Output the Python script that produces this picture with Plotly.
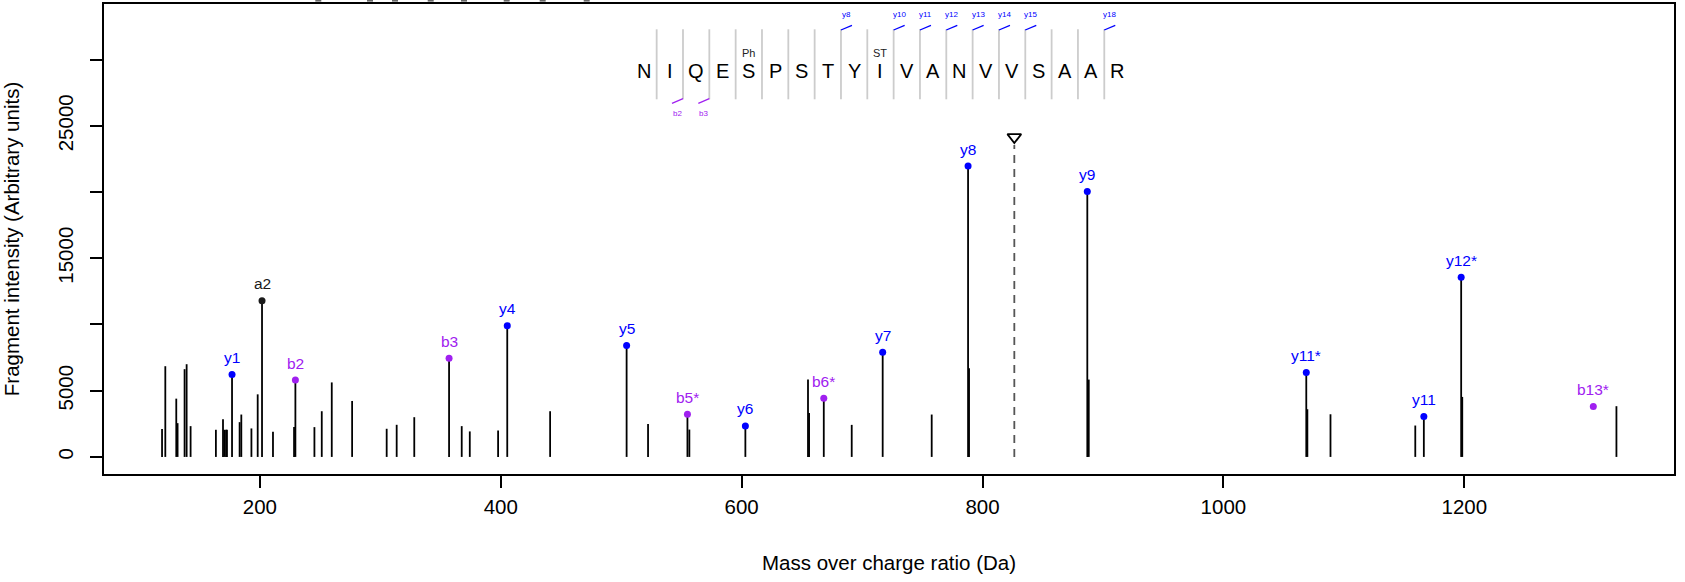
import plotly.graph_objects as go

# ---------------- data ----------------
# unannotated fragment peaks (m/z, intensity)
peak_mz = [118.8, 121.5, 130.6, 131.7, 137.5, 139.2, 142.5, 163.5, 169.4, 170.5,
           171.9, 172.7, 183.2, 184.6, 193.0, 198.2, 210.9, 228.4, 245.3, 251.4,
           259.7, 276.6, 305.3, 313.6, 328.2, 367.6, 374.3, 397.8, 441.0, 522.3,
           556.6, 655.1, 656.0, 691.4, 757.8, 788.8, 888.2, 1069.7, 1088.9, 1159.3,
           1198.3, 1326.3]
peak_int = [2100, 6850, 4400, 2550, 6625, 7000, 2325, 2050, 2850, 2050,
            2050, 2050, 2625, 3200, 2150, 4725, 1900, 2250, 2250, 3450,
            5625, 4225, 2125, 2425, 3000, 2325, 1925, 2000, 3450, 2480,
            2065, 5840, 3320, 2420, 3200, 6700, 5840, 3600, 3220, 2370,
            4530, 3830]

# annotated fragment ions
ion_labels = ["y1", "a2", "b2", "b3", "y4", "y5", "b5*", "y6", "b6*", "y7",
              "y8", "y9", "y11*", "y11", "y12*", "b13*"]
ion_mz = [176.9, 201.8, 229.5, 357.1, 405.4, 504.5, 555.0, 603.1, 668.2, 717.1,
          788.0, 887.0, 1068.8, 1166.4, 1197.4, 1307.1]
ion_int = [6225, 11800, 5800, 7450, 9900, 8410, 3220, 2340, 4430, 7910,
           21960, 20040, 6370, 3050, 13570, 3800]
ion_type = ["y", "a", "b", "b", "y", "y", "b", "y", "b", "y",
            "y", "y", "y", "y", "y", "b"]
ion_has_stem = [True] * 15 + [False]

precursor_mz = 826.4
precursor_line_top = 23545
precursor_marker = 24150

sequence = "NIQESPSTYIVANVVSAAR"
modifications = {4: "Ph", 9: "ST"}
seq_y_marks = [8, 10, 11, 12, 13, 14, 15, 18]
seq_b_marks = [2, 3]

x_ticks = [200, 400, 600, 800, 1000, 1200]
y_ticks = [0, 5000, 10000, 15000, 20000, 25000, 30000]
y_ticktext = ["0", "5000", "", "15000", "", "25000", ""]

# ---------------- style ----------------
FONT = "Liberation Sans, Arial, Helvetica, sans-serif"
COL = {"y": "#0000FF", "b": "#A020F0", "a": "#1a1a1a"}
W, H = 1685, 582
ML, MR, MT, MB = 104, 11, 4, 108
PW, PH = W - ML - MR, H - MT - MB


def px(x):
    return (x - ML) / PW


def py(y):
    return (H - MB - y) / PH


def paper_text(x, y, text, size, color):
    return dict(x=px(x), y=py(y), xref="paper", yref="paper", text=text,
                showarrow=False, xanchor="center", yanchor="middle",
                font=dict(family=FONT, size=size, color=color))


fig = go.Figure()

# stems
sx, sy = [], []
for m, v in zip(peak_mz, peak_int):
    sx += [m, m, None]
    sy += [0, v, None]
for m, v, s in zip(ion_mz, ion_int, ion_has_stem):
    if s:
        sx += [m, m, None]
        sy += [0, v, None]
fig.add_trace(go.Scatter(x=sx, y=sy, mode="lines",
                         line=dict(color="black", width=1.8),
                         hoverinfo="skip", showlegend=False))

# precursor
fig.add_trace(go.Scatter(x=[precursor_mz, precursor_mz], y=[0, precursor_line_top],
                         mode="lines", line=dict(color="#555555", width=1.8, dash="8px,6px"),
                         showlegend=False, hoverinfo="skip"))
fig.add_trace(go.Scatter(x=[precursor_mz], y=[precursor_marker], mode="markers",
                         marker=dict(symbol="triangle-down-open", size=12,
                                     color="black", line=dict(width=1.8, color="black")),
                         showlegend=False))

# ion dots
fig.add_trace(go.Scatter(x=ion_mz, y=ion_int, mode="markers",
                         marker=dict(size=7, color=[COL[t] for t in ion_type]),
                         showlegend=False))

annotations = []
for lab, m, v, t in zip(ion_labels, ion_mz, ion_int, ion_type):
    annotations.append(dict(x=m, y=v, xref="x", yref="y", text=lab, showarrow=False,
                            xanchor="center", yanchor="middle",
                            yshift=17, font=dict(family=FONT, size=15.5, color=COL[t])))

shapes = []
# peptide sequence header
letter_x0, step = 643.5, 26.33
sep_x0 = letter_x0 + step / 2
for i, aa in enumerate(sequence):
    annotations.append(paper_text(letter_x0 + i * step, 71, aa, 20, "black"))
for i, mod in modifications.items():
    annotations.append(paper_text(letter_x0 + i * step, 53, mod, 11, "#222222"))
for j in range(len(sequence) - 1):
    xs = px(sep_x0 + j * step)
    shapes.append(dict(type="line", xref="paper", yref="paper", x0=xs, x1=xs,
                       y0=py(29.3), y1=py(99.3), line=dict(color="#CCCCCC", width=1.8)))
for k in seq_y_marks:
    xs = sep_x0 + (k - 1) * step
    shapes.append(dict(type="line", xref="paper", yref="paper", x0=px(xs), x1=px(xs + 11),
                       y0=py(30), y1=py(25.3), line=dict(color=COL["y"], width=1.3)))
    annotations.append(paper_text(xs + 5.5, 14, f"y{k}", 8, COL["y"]))
for k in seq_b_marks:
    xs = sep_x0 + (k - 1) * step
    shapes.append(dict(type="line", xref="paper", yref="paper", x0=px(xs), x1=px(xs - 11),
                       y0=py(98.7), y1=py(103.3), line=dict(color=COL["b"], width=1.3)))
    annotations.append(paper_text(xs - 5.5, 113.5, f"b{k}", 8, COL["b"]))

# clipped marks at the very top edge
for xm in [318.3, 370, 395, 430.7, 464, 506.7, 542.7, 586.7]:
    shapes.append(dict(type="rect", xref="paper", yref="paper", x0=px(xm - 3), x1=px(xm + 3),
                       y0=py(1.6), y1=py(0), line=dict(width=0), fillcolor="#666666"))

fig.update_layout(
    width=W, height=H,
    margin=dict(l=ML, r=MR, t=MT, b=MB, autoexpand=False),
    paper_bgcolor="white", plot_bgcolor="white",
    font=dict(family=FONT, size=20.5, color="black"),
    showlegend=False,
    annotations=annotations,
    shapes=shapes,
    xaxis=dict(range=[70.6, 1374.1], tickvals=x_ticks, ticks="outside", ticklen=12,
               tickwidth=1.5, tickcolor="black", showline=True, mirror=True,
               linecolor="black", linewidth=1.6, showgrid=False, zeroline=False,
               automargin=False, tickfont=dict(size=20.5), ticklabelstandoff=2,
               title=dict(text="Mass over charge ratio (Da)", font=dict(size=20.5), standoff=38)),
    yaxis=dict(range=[-1290, 34200], tickvals=y_ticks, ticktext=y_ticktext, tickangle=-90,
               ticks="outside", ticklen=12, tickwidth=1.5, tickcolor="black",
               showline=True, mirror=True, linecolor="black", linewidth=1.6,
               automargin=False, showgrid=False, zeroline=False, tickfont=dict(size=20.5),
               ticklabelstandoff=9,
               title=dict(text="Fragment intensity (Arbitrary units)", font=dict(size=20.5),
                          standoff=29)),
)

fig.write_html("out.html", config={"displayModeBar": False},
               post_script="document.body.style.margin='0';document.body.style.padding='0';")
